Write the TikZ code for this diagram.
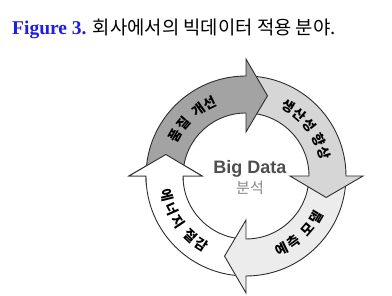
\documentclass[tikz,border=0pt]{standalone}
\usepackage{fontspec}
\setmainfont{Liberation Serif}
\newfontfamily\hangul{Noto Sans CJK KR}
\newfontfamily\latinsans{Liberation Sans}
\usetikzlibrary{positioning}

\definecolor{capblue}{RGB}{30,30,220}
\definecolor{ringdark}{RGB}{163,163,163}
\definecolor{ringlight}{RGB}{214,214,214}
\definecolor{ringpale}{RGB}{236,236,236}
\definecolor{ringline}{RGB}{45,45,45}

% ring radii, arrowhead wings and tip
\newcommand{\Ro}{100}
\newcommand{\Ri}{63}
\newcommand{\Rw}{117}
\newcommand{\Rv}{44}
\newcommand{\Rt}{83}
\newcommand{\Rm}{81.5}
% one quarter of the cycle, body starting at #1 and running clockwise
\newcommand{\cyclearrow}[1]{(#1:\Ro) arc[start angle=#1, end angle=#1-90, radius=\Ro]
  -- (#1-90:\Rw) -- (#1-105:\Rt) -- (#1-90:\Rv) -- (#1-90:\Ri)
  arc[start angle=#1-90, end angle=#1, radius=\Ri] -- cycle}

\begin{document}
\begin{tikzpicture}[x=1pt, y=1pt,
    arrowbody/.style={draw=ringline, line width=0.9pt, line join=miter},
    tag/.style={inner sep=0pt, font=\hangul\bfseries\fontsize{13.5}{16}\selectfont},
    captext/.style={inner sep=0pt, font=\hangul\fontsize{18.8}{20}\selectfont}]
  \useasboundingbox (0,0) rectangle (392,296);

  % caption
  \node[anchor=base west, inner sep=0pt, text=capblue, font=\bfseries\fontsize{19.5}{20}\selectfont] (fig) at (12,261) {Figure 3.};
  \node[captext, base right=6pt of fig] (title) {회사에서의 빅데이터 적용 분야.};

  \begin{scope}[shift={(246,120)}]
    \foreach \a/\shade in {270/white, 0/ringpale, 90/ringlight, 180/ringdark}
      \filldraw[arrowbody, fill=\shade] \cyclearrow{\a};
    % white head goes back on top of the dark tail
    \begin{scope}
      \clip (0,0) -- (186:130) arc[start angle=186, end angle=150, radius=130] -- cycle;
      \filldraw[arrowbody, fill=white] \cyclearrow{270};
    \end{scope}

    % letters set one by one round the ring
    \foreach \ch/\ang [count=\i] in {품/150, 질/140, 개/126, 선/116}
      \node[tag, rotate=\ang-90] (q\i) at (\ang:\Rm) {\ch};
    \foreach \ch/\ang [count=\i] in {생/59, 산/49, 성/39, 향/26, 상/16}
      \node[tag, rotate=\ang-90] (p\i) at (\ang:\Rm) {\ch};
    \foreach \ch/\ang [count=\i] in {예/-64, 측/-54, 모/-41, 델/-31}
      \node[tag, rotate=\ang+90] (m\i) at (\ang:\Rm) {\ch};
    \foreach \ch/\ang [count=\i] in {에/194, 너/204, 지/214, 절/227, 감/237}
      \node[tag, rotate=\ang+90] (e\i) at (\ang:\Rm) {\ch};

    \node[inner sep=0pt, text={rgb,255:red,78;green,78;blue,78}, font=\latinsans\bfseries\fontsize{18}{20}\selectfont] (big) at (4,7) {Big Data};
    \node[inner sep=0pt, text={rgb,255:red,135;green,135;blue,135}, font=\hangul\fontsize{15}{16}\selectfont, below=3pt of big] (anal) {분석};
  \end{scope}
\end{tikzpicture}
\end{document}
